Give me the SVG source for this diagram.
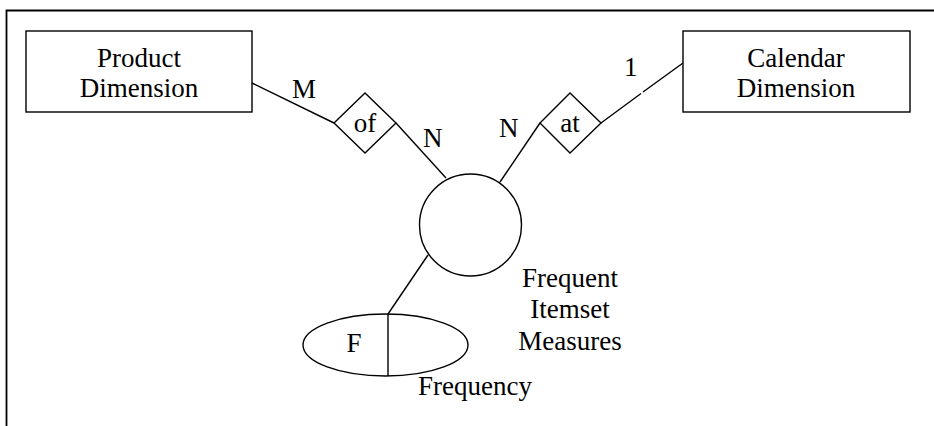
<svg xmlns="http://www.w3.org/2000/svg" width="934" height="426" viewBox="0 0 934 426">
<style>
.s{fill:#fff;stroke:#000;stroke-width:1.4}
.c{fill:none;stroke:#000;stroke-width:1.4}
text{font-family:"Liberation Serif","Times New Roman",serif;font-size:27px;fill:#000}
.m{text-anchor:middle}
</style>
<rect width="934" height="426" fill="#fff"/>
<path d="M6.5,426 V10.5 H934" fill="none" stroke="#000" stroke-width="1.8"/>
<g id="connectors">
<path class="c" d="M252,83 L334,123"/>
<path class="c" d="M396,123 L446,178"/>
<path class="c" d="M500,182 L540,123"/>
<path class="c" d="M601,123 L641,93.5 M643,92 L683,63"/>
<path class="c" d="M428,255 L388,314"/>
<text x="292" y="98">M</text>
<text x="423" y="147">N</text>
<text x="499" y="137">N</text>
<text x="624" y="76">1</text>
</g>
<g id="product">
<rect class="s" x="26" y="31" width="226" height="81"/>
<text class="m" x="139" y="67">Product</text>
<text class="m" x="139" y="97">Dimension</text>
</g>
<g id="of">
<polygon class="s" points="334,123 365,93 396,123 365,153"/>
<text class="m" x="365" y="132">of</text>
</g>
<g id="at">
<polygon class="s" points="540,123 570,93 601,123 570,153"/>
<text class="m" x="570" y="132">at</text>
</g>
<g id="calendar">
<rect class="s" x="683" y="31" width="227" height="81"/>
<text class="m" x="796" y="67">Calendar</text>
<text class="m" x="796" y="97">Dimension</text>
</g>
<g id="measures">
<circle class="s" cx="470.5" cy="225" r="51"/>
<text class="m" x="570" y="287">Frequent</text>
<text class="m" x="570" y="318">Itemset</text>
<text class="m" x="570" y="350">Measures</text>
</g>
<g id="frequency">
<ellipse class="s" cx="385.5" cy="345" rx="82.5" ry="31"/>
<path class="c" d="M388,314 V376"/>
<text class="m" x="354" y="352">F</text>
<text class="m" x="475" y="395">Frequency</text>
</g>
</svg>
